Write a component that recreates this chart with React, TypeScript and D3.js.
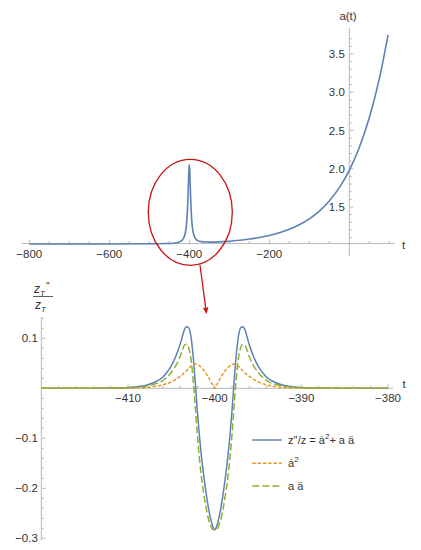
import React from 'react';
import * as d3 from 'd3';

// ---- top panel: a(t) ----
const topT = [-800, -700, -600, -500, -460, -440, -430, -420, -415, -410, -407, -405, -404, -403, -402, -401, -400, -399, -398, -397, -396, -395, -393, -390, -385, -380, -370, -360, -340, -300, -275, -250, -225, -200, -175, -150, -125, -100, -75, -50, -25, 0, 25, 50, 75, 97];
const topA = [1.0155, 1.016, 1.0166, 1.0195, 1.023, 1.027, 1.033, 1.056, 1.085, 1.16, 1.27, 1.42, 1.53, 1.68, 1.84, 1.99, 2.05, 1.99, 1.84, 1.68, 1.53, 1.42, 1.27, 1.16, 1.09, 1.064, 1.047, 1.042, 1.041, 1.053, 1.065, 1.081, 1.101, 1.128, 1.162, 1.208, 1.267, 1.345, 1.446, 1.579, 1.753, 1.98, 2.277, 2.666, 3.175, 3.75];
const topXTicks = [-800, -600, -400, -200];
const topYTicks = [1.5, 2.0, 2.5, 3.0, 3.5];

// ---- bottom panel: z''/z and its parts ----
const botT = [-420, -417, -414, -412, -410, -409, -408, -407, -406, -405.5, -405, -404.5, -404, -403.75, -403.5, -403.25, -403, -402.75, -402.5, -402.25, -402, -401.75, -401.5, -401.25, -401, -400.75, -400.5, -400.25, -400, -399.75, -399.5, -399.25, -399, -398.75, -398.5, -398.25, -398, -397.75, -397.5, -397.25, -397, -396.75, -396.5, -396.25, -396, -395.5, -395, -394.5, -394, -393, -392, -391, -390, -388, -386, -383, -380];
const botTotal = [0, 0.0001, 0.0002, 0.0005, 0.0015, 0.003, 0.0055, 0.0115, 0.022, 0.032, 0.045, 0.063, 0.087, 0.102, 0.117, 0.123, 0.121, 0.105, 0.068, 0.015, -0.045, -0.097, -0.14, -0.176, -0.208, -0.236, -0.258, -0.275, -0.283, -0.275, -0.258, -0.236, -0.208, -0.176, -0.14, -0.097, -0.045, 0.015, 0.068, 0.105, 0.121, 0.123, 0.117, 0.102, 0.087, 0.063, 0.045, 0.032, 0.022, 0.0115, 0.0055, 0.003, 0.0015, 0.0005, 0.0002, 0.0001, 0];
const botADot2 = [0, 0, 0.0001, 0.0002, 0.0005, 0.0009, 0.0017, 0.0035, 0.0068, 0.0095, 0.013, 0.018, 0.024, 0.027, 0.031, 0.035, 0.04, 0.044, 0.047, 0.0485, 0.0475, 0.045, 0.041, 0.036, 0.03, 0.023, 0.015, 0.007, 0, 0.007, 0.015, 0.023, 0.03, 0.036, 0.041, 0.045, 0.0475, 0.0485, 0.047, 0.044, 0.04, 0.035, 0.031, 0.027, 0.024, 0.018, 0.013, 0.0095, 0.0068, 0.0035, 0.0017, 0.0009, 0.0005, 0.0002, 0.0001, 0, 0];
const botAAddot = [0, 0.0001, 0.0001, 0.0003, 0.001, 0.0021, 0.0038, 0.008, 0.0152, 0.0225, 0.032, 0.045, 0.063, 0.075, 0.086, 0.088, 0.081, 0.061, 0.021, -0.0335, -0.0925, -0.142, -0.181, -0.212, -0.238, -0.259, -0.273, -0.282, -0.283, -0.282, -0.273, -0.259, -0.238, -0.212, -0.181, -0.142, -0.0925, -0.0335, 0.021, 0.061, 0.081, 0.088, 0.086, 0.075, 0.063, 0.045, 0.032, 0.0225, 0.0152, 0.008, 0.0038, 0.0021, 0.001, 0.0003, 0.0001, 0.0001, 0];
const botXTicks = [-410, -400, -390, -380];
const botYTicks = [0.1, -0.1, -0.2, -0.3];

const BLUE = '#5E81B5';
const ORANGE = '#E19C24';
const GREEN = '#8FB032';
const AXIS = '#b8b8b8';
const LABEL = '#333';
const FONT = '"Liberation Sans", Arial, sans-serif';

const fmt = (v: number, digits: number) => (v < 0 ? '\u2212' : '') + Math.abs(v).toFixed(digits);

function range(a: number, b: number, s: number) {
  const out: number[] = [];
  for (let v = a; v <= b + 1e-9; v += s) out.push(Math.round(v * 1000) / 1000);
  return out;
}

export default function App() {
  // top scales
  const xT = d3.scaleLinear().domain([-800, 0]).range([29.3, 349.3]);
  const yT = d3.scaleLinear().domain([1.5, 3.5]).range([207, 54]);
  const axisYTop = yT(1.022);
  const axisXTop = xT(0);
  const lineTop = d3
    .line<number>()
    .x((_, i) => xT(topT[i]))
    .y((d) => yT(d))
    .curve(d3.curveMonotoneX);

  // bottom scales
  const xB = d3.scaleLinear().domain([-410, -380]).range([128, 388]);
  const yB = d3.scaleLinear().domain([0, -0.3]).range([388.3, 538.3]);
  const axisYBot = yB(0);
  const axisXBot = xB(-420);
  const lineBot = d3
    .line<number>()
    .x((_, i) => xB(botT[i]))
    .y((d) => yB(d))
    .curve(d3.curveMonotoneX);

  const topMinorX = range(-800, 100, 50).filter((v) => v % 200 !== 0);
  const topMinorY = range(1.1, 3.7, 0.1).filter((v) => Math.abs(v * 2 - Math.round(v * 2)) > 1e-6);
  const botMinorX = range(-420, -380, 2).filter((v) => v % 10 !== 0);
  const botMinorY = range(-0.3, 0.14, 0.02).filter((v) => Math.abs(v * 10 - Math.round(v * 10)) > 1e-6);

  // arrow geometry
  const ax0 = 200, ay0 = 265, ax1 = 206.5, ay1 = 314;
  const len = Math.hypot(ax1 - ax0, ay1 - ay0);
  const ux = (ax1 - ax0) / len, uy = (ay1 - ay0) / len;
  const bx = ax1 - ux * 6.5, by = ay1 - uy * 6.5;
  const head = `${ax1},${ay1} ${bx - uy * 2.8},${by + ux * 2.8} ${bx + uy * 2.8},${by - ux * 2.8}`;

  return (
    <svg
      width={421}
      height={550}
      style={{ position: 'absolute', left: 0, top: 0, background: '#fff' }}
      fontFamily={FONT}
    >
      {/* ---------- TOP PANEL ---------- */}
      <line x1={22} x2={395} y1={axisYTop} y2={axisYTop} stroke={AXIS} />
      <line x1={axisXTop} x2={axisXTop} y1={28} y2={256} stroke={AXIS} />
      {topXTicks.map((v) => (
        <line key={'tx' + v} x1={xT(v)} x2={xT(v)} y1={axisYTop} y2={axisYTop - 4} stroke={AXIS} />
      ))}
      {topMinorX.map((v) => (
        <line key={'tmx' + v} x1={xT(v)} x2={xT(v)} y1={axisYTop} y2={axisYTop - 2.5} stroke={AXIS} />
      ))}
      {topYTicks.map((v) => (
        <line key={'ty' + v} x1={axisXTop} x2={axisXTop + 4} y1={yT(v)} y2={yT(v)} stroke={AXIS} />
      ))}
      {topMinorY.map((v) => (
        <line key={'tmy' + v} x1={axisXTop} x2={axisXTop + 2.5} y1={yT(v)} y2={yT(v)} stroke={AXIS} />
      ))}
      {topXTicks.map((v) => (
        <text key={'txl' + v} x={xT(v)} y={axisYTop + 10} fontSize={11.5} fill={LABEL} textAnchor="middle" dominantBaseline="central">
          {fmt(v, 0)}
        </text>
      ))}
      {topYTicks.map((v) => (
        <text key={'tyl' + v} x={axisXTop - 4.5} y={yT(v)} fontSize={11.5} fill={LABEL} textAnchor="end" dominantBaseline="central">
          {fmt(v, 1)}
        </text>
      ))}
      <text x={348} y={15.5} fontSize={11.5} fill={LABEL} textAnchor="middle" dominantBaseline="central">a(t)</text>
      <text x={403.5} y={245} fontSize={11.5} fill={LABEL} textAnchor="middle" dominantBaseline="central">t</text>
      <path d={lineTop(topA) || ''} fill="none" stroke={BLUE} strokeWidth={1.6} />
      <ellipse cx={190.3} cy={212.3} rx={42} ry={53} fill="none" stroke="#C81414" strokeWidth={1.3} />
      <line x1={ax0} y1={ay0} x2={bx} y2={by} stroke="#C81414" strokeWidth={1.3} />
      <polygon points={head} fill="#C81414" />

      {/* ---------- BOTTOM PANEL ---------- */}
      <line x1={axisXBot} x2={393} y1={axisYBot} y2={axisYBot} stroke={AXIS} />
      <line x1={axisXBot} x2={axisXBot} y1={317} y2={540} stroke={AXIS} />
      {botXTicks.map((v) => (
        <line key={'bx' + v} x1={xB(v)} x2={xB(v)} y1={axisYBot} y2={axisYBot - 4} stroke={AXIS} />
      ))}
      {botMinorX.map((v) => (
        <line key={'bmx' + v} x1={xB(v)} x2={xB(v)} y1={axisYBot} y2={axisYBot - 2.5} stroke={AXIS} />
      ))}
      {botYTicks.map((v) => (
        <line key={'by' + v} x1={axisXBot} x2={axisXBot + 4} y1={yB(v)} y2={yB(v)} stroke={AXIS} />
      ))}
      {botMinorY.map((v) => (
        <line key={'bmy' + v} x1={axisXBot} x2={axisXBot + 2.5} y1={yB(v)} y2={yB(v)} stroke={AXIS} />
      ))}
      {botXTicks.map((v) => (
        <text key={'bxl' + v} x={xB(v)} y={axisYBot + 10} fontSize={11.5} fill={LABEL} textAnchor="middle" dominantBaseline="central">
          {fmt(v, 0)}
        </text>
      ))}
      {botYTicks.map((v) => (
        <text key={'byl' + v} x={axisXBot - 3.5} y={yB(v)} fontSize={11.5} fill={LABEL} textAnchor="end" dominantBaseline="central">
          {fmt(v, 1)}
        </text>
      ))}
      <text x={404} y={384} fontSize={11.5} fill={LABEL} textAnchor="middle" dominantBaseline="central">t</text>

      {/* y label fraction */}
      <text x={34} y={293} fontSize={12} fill={LABEL} fontStyle="italic">
        z<tspan fontSize={8} dy={2.5}>T</tspan>
        <tspan fontStyle="normal" fontSize={10} dy={-5.5} dx={1}>''</tspan>
      </text>
      <line x1={33} x2={53} y1={296.5} y2={296.5} stroke={LABEL} strokeWidth={0.8} />
      <text x={35} y={309} fontSize={12} fill={LABEL} fontStyle="italic">
        z<tspan fontSize={8} dy={2.5}>T</tspan>
      </text>

      <path d={lineBot(botTotal) || ''} fill="none" stroke={BLUE} strokeWidth={1.5} />
      <path d={lineBot(botADot2) || ''} fill="none" stroke={ORANGE} strokeWidth={1.5} strokeDasharray="3.5,1.8" />
      <path d={lineBot(botAAddot) || ''} fill="none" stroke={GREEN} strokeWidth={1.5} strokeDasharray="7,3" />

      {/* legend */}
      <line x1={252.3} x2={281.7} y1={440} y2={440} stroke={BLUE} strokeWidth={1.5} />
      <line x1={252.3} x2={281.7} y1={463.3} y2={463.3} stroke={ORANGE} strokeWidth={1.5} strokeDasharray="3.5,1.8" />
      <line x1={252.3} x2={281.7} y1={486} y2={486} stroke={GREEN} strokeWidth={1.5} strokeDasharray="7,3" />
      <text x={288} y={440} fontSize={11} fill={LABEL} dominantBaseline="central">
        z''/z = {'\u0227'}<tspan fontSize={8} dy={-4}>2</tspan><tspan dy={4}>+ a {'\u00e4'}</tspan>
      </text>
      <text x={288} y={463.3} fontSize={11} fill={LABEL} dominantBaseline="central">
        {'\u0227'}<tspan fontSize={8} dy={-4}>2</tspan>
      </text>
      <text x={288} y={486} fontSize={11} fill={LABEL} dominantBaseline="central">
        a {'\u00e4'}
      </text>
    </svg>
  );
}
